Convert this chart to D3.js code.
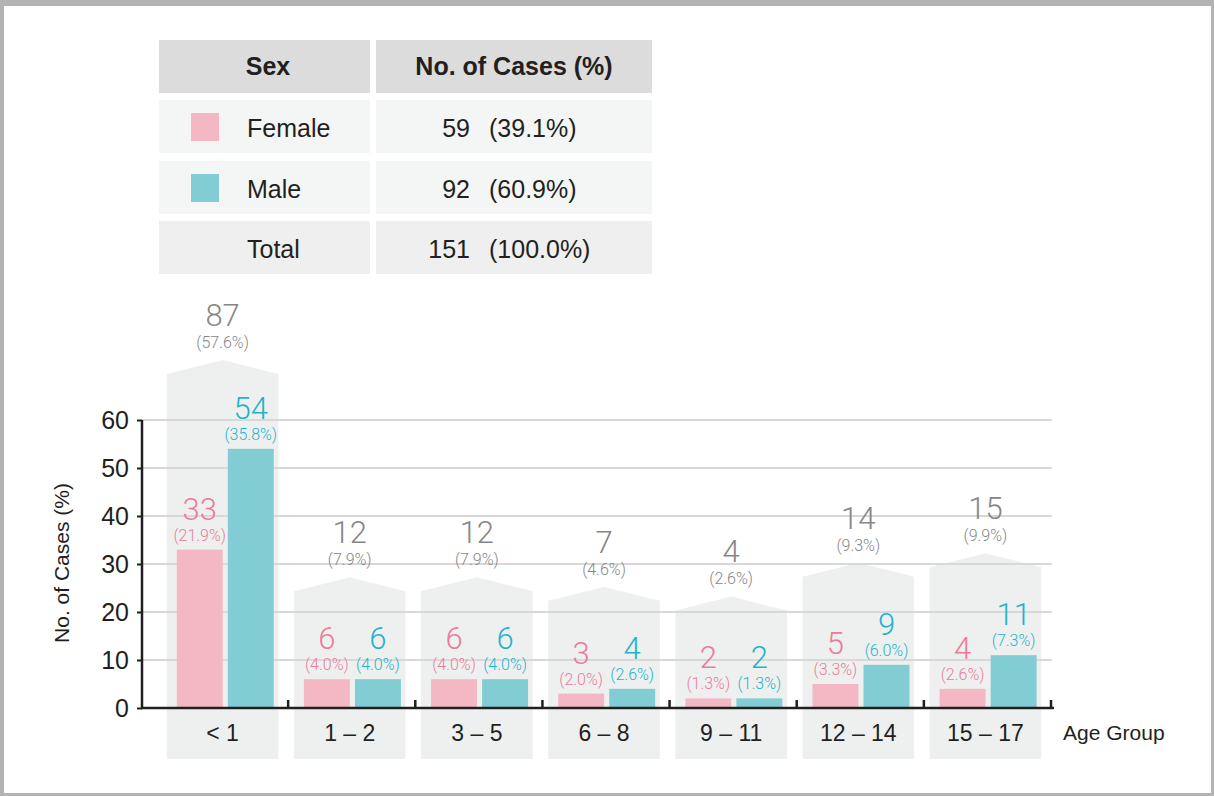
<!DOCTYPE html>
<html lang="en">
<head>
    <meta charset="UTF-8">
    <title>Cases by Age Group and Sex</title>
    <script src="https://d3js.org/d3.v7.min.js"></script>
    <style>
        body {
            margin: 0;
            font-family: "Liberation Sans", Arial, sans-serif;
        }
        svg {
            display: block;
        }
        .light {
            font-family: Roboto, "Liberation Sans", sans-serif;
            font-weight: 300;
        }
    </style>
</head>
<body>
    <svg></svg>

    <script>
        // Chart data
        const ageGroups = ["< 1", "1 \u2013 2", "3 \u2013 5", "6 \u2013 8", "9 \u2013 11", "12 \u2013 14", "15 \u2013 17"];
        const female = [33, 6, 6, 3, 2, 5, 4];
        const male = [54, 6, 6, 4, 2, 9, 11];
        const femalePct = ["21.9", "4.0", "4.0", "2.0", "1.3", "3.3", "2.6"];
        const malePct = ["35.8", "4.0", "4.0", "2.6", "1.3", "6.0", "7.3"];
        const total = [87, 12, 12, 7, 4, 14, 15];
        const totalPct = ["57.6", "7.9", "7.9", "4.6", "2.6", "9.3", "9.9"];
        const yTicks = [0, 10, 20, 30, 40, 50, 60];

        // Summary table data
        const sexLabels = ["Female", "Male", "Total"];
        const sexCounts = [59, 92, 151];
        const sexPct = ["39.1", "60.9", "100.0"];

        const W = 1214, H = 796;
        const pinkBar = "#f4b8c5", tealBar = "#82cdd3";
        const pinkText = "#ec7b9b", tealText = "#1fb4cb";
        const greyText = "#868686", ink = "#231f20";

        const svg = d3.select("svg").attr("width", W).attr("height", H);

        // frame
        svg.append("rect").attr("width", W).attr("height", H).attr("fill", "#b3b3b3");
        svg.append("rect").attr("x", 4).attr("y", 6).attr("width", W - 7).attr("height", H - 9).attr("fill", "#fff");

        // ---- table ----
        const colX = [159, 376], colW = [211, 276];
        const rowY = [40, 100, 161, 221], rowH = 53;
        const rowFill = ["#dcdcdc", "#f4f6f5", "#f4f6f5", "#eeefee"];
        const table = svg.append("g");

        rowY.forEach((ry, r) => {
            colX.forEach((cx, c) => {
                table.append("rect")
                    .attr("x", cx).attr("y", ry)
                    .attr("width", colW[c]).attr("height", rowH)
                    .attr("fill", rowFill[r]);
            });
        });

        table.append("text")
            .attr("x", 268).attr("y", rowY[0] + 35)
            .attr("text-anchor", "middle")
            .attr("font-size", 25).attr("font-weight", "bold").attr("fill", ink)
            .text("Sex");
        table.append("text")
            .attr("x", 514).attr("y", rowY[0] + 35)
            .attr("text-anchor", "middle")
            .attr("font-size", 25).attr("font-weight", "bold").attr("fill", ink)
            .text("No. of Cases (%)");

        const swatch = [pinkBar, tealBar, null];
        sexLabels.forEach((s, i) => {
            const ry = rowY[i + 1];
            if (swatch[i]) {
                table.append("rect")
                    .attr("x", 191).attr("y", ry + 13)
                    .attr("width", 28).attr("height", 28)
                    .attr("fill", swatch[i]);
            }
            table.append("text")
                .attr("x", 247).attr("y", ry + 37)
                .attr("font-size", 25).attr("fill", ink)
                .text(s);
            table.append("text")
                .attr("x", 470).attr("y", ry + 37)
                .attr("text-anchor", "end")
                .attr("font-size", 25).attr("fill", ink)
                .text(sexCounts[i]);
            table.append("text")
                .attr("x", 489).attr("y", ry + 37)
                .attr("font-size", 25).attr("fill", ink)
                .text(`(${sexPct[i]}%)`);
        });

        // ---- chart ----
        const axisLeftX = 142, axisEndX = 1054;
        const y = d3.scaleLinear().domain([0, 60]).range([708, 420]);

        const x = d3.scaleBand()
            .domain(ageGroups)
            .range([159, 1049])
            .paddingInner(0.122)
            .paddingOuter(0.061);

        const xs = d3.scaleBand()
            .domain(["Female", "Male"])
            .range([10, 107])
            .paddingInner(0.1);

        const rows = ageGroups.map((g, i) => ({
            group: g, f: female[i], m: male[i],
            fp: femalePct[i], mp: malePct[i],
            t: total[i], tp: totalPct[i]
        }));

        // background pentagons, height follows the taller bar
        const shoulder = d => Math.max(y(Math.max(d.f, d.m)) - 88, y(60) - 46);
        const chart = svg.append("g");

        chart.selectAll(".back")
            .data(rows)
            .join("path")
            .attr("class", "back")
            .attr("fill", "#eef0ef")
            .attr("d", d => {
                const x0 = x(d.group), x1 = x0 + x.bandwidth(), xm = x0 + x.bandwidth() / 2;
                const s = shoulder(d);
                return `M${x0},759 L${x0},${s} L${xm},${s - 14} L${x1},${s} L${x1},759 Z`;
            });

        // gridlines
        chart.selectAll(".grid")
            .data(yTicks.slice(1))
            .join("line")
            .attr("x1", axisLeftX).attr("x2", axisEndX - 2)
            .attr("y1", d => y(d)).attr("y2", d => y(d))
            .attr("stroke", "#d8d8d8").attr("stroke-width", 2);

        // bars
        chart.selectAll(".barF")
            .data(rows)
            .join("rect")
            .attr("x", d => x(d.group) + xs("Female"))
            .attr("y", d => y(d.f))
            .attr("width", xs.bandwidth())
            .attr("height", d => y(0) - y(d.f))
            .attr("fill", pinkBar);

        chart.selectAll(".barM")
            .data(rows)
            .join("rect")
            .attr("x", d => x(d.group) + xs("Male"))
            .attr("y", d => y(d.m))
            .attr("width", xs.bandwidth())
            .attr("height", d => y(0) - y(d.m))
            .attr("fill", tealBar);

        // bar labels
        const addLabels = (key, pctKey, sex, color) => {
            const cx = d => x(d.group) + xs(sex) + xs.bandwidth() / 2;
            chart.selectAll(".n" + sex)
                .data(rows)
                .join("text")
                .attr("class", "light")
                .attr("x", cx).attr("y", d => y(d[key]) - 30)
                .attr("text-anchor", "middle")
                .attr("font-size", 31).attr("fill", color)
                .text(d => d[key]);
            chart.selectAll(".p" + sex)
                .data(rows)
                .join("text")
                .attr("class", "light")
                .attr("x", cx).attr("y", d => y(d[key]) - 9)
                .attr("text-anchor", "middle")
                .attr("font-size", 16).attr("fill", color)
                .text(d => `(${d[pctKey]}%)`);
        };
        addLabels("f", "fp", "Female", pinkText);
        addLabels("m", "mp", "Male", tealText);

        // totals above pentagons
        chart.selectAll(".tot")
            .data(rows)
            .join("text")
            .attr("class", "light")
            .attr("x", d => x(d.group) + x.bandwidth() / 2)
            .attr("y", d => shoulder(d) - 48)
            .attr("text-anchor", "middle")
            .attr("font-size", 31).attr("fill", greyText)
            .text(d => d.t);
        chart.selectAll(".totp")
            .data(rows)
            .join("text")
            .attr("class", "light")
            .attr("x", d => x(d.group) + x.bandwidth() / 2)
            .attr("y", d => shoulder(d) - 26)
            .attr("text-anchor", "middle")
            .attr("font-size", 16).attr("fill", greyText)
            .text(d => `(${d.tp}%)`);

        // y axis
        const yAxis = chart.append("g")
            .attr("transform", `translate(${axisLeftX},0)`)
            .call(d3.axisLeft(y).tickValues(yTicks).tickSize(5).tickPadding(8));
        yAxis.select(".domain").attr("stroke", ink).attr("stroke-width", 2.5)
            .attr("d", `M0,${y(60)}V${y(0)}`);
        yAxis.selectAll(".tick line").attr("stroke", ink).attr("stroke-width", 2);
        yAxis.selectAll(".tick text")
            .attr("font-family", "Liberation Sans, Arial, sans-serif")
            .attr("font-size", 25).attr("fill", ink);

        // x axis: baseline with upward ticks between groups
        chart.append("line")
            .attr("x1", axisLeftX - 1).attr("x2", axisEndX)
            .attr("y1", y(0)).attr("y2", y(0))
            .attr("stroke", ink).attr("stroke-width", 2.5);
        const bounds = d3.range(1, ageGroups.length + 1)
            .map(k => Math.min(x.range()[0] + k * x.step() + 2, axisEndX - 1));
        chart.selectAll(".xtick")
            .data(bounds)
            .join("line")
            .attr("x1", d => d).attr("x2", d => d)
            .attr("y1", y(0)).attr("y2", y(0) - 8)
            .attr("stroke", ink).attr("stroke-width", 2.5);

        chart.selectAll(".xlab")
            .data(ageGroups)
            .join("text")
            .attr("x", d => x(d) + x.bandwidth() / 2)
            .attr("y", 741)
            .attr("text-anchor", "middle")
            .attr("font-size", 23).attr("fill", ink)
            .text(d => d);

        chart.append("text")
            .attr("x", 1063).attr("y", 740)
            .attr("font-size", 21).attr("fill", ink)
            .text("Age Group");

        chart.append("text")
            .attr("transform", "translate(69,563) rotate(-90)")
            .attr("text-anchor", "middle")
            .attr("font-size", 21).attr("fill", ink)
            .text("No. of Cases (%)");
    </script>
</body>
</html>
